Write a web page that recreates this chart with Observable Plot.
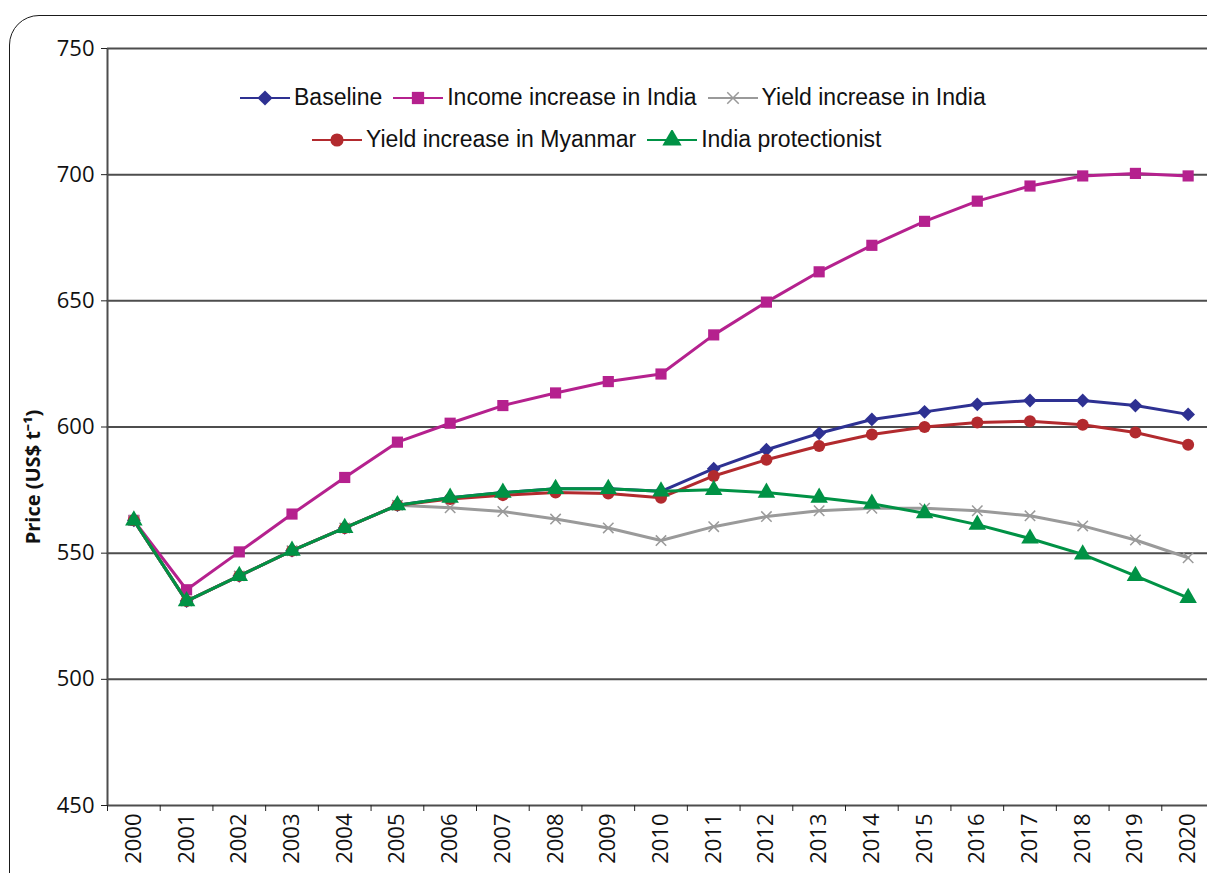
<!DOCTYPE html>
<html><head><meta charset="utf-8">
<script src="https://cdn.jsdelivr.net/npm/d3@7"></script>
<script src="https://cdn.jsdelivr.net/npm/@observablehq/plot@0.6"></script>
<style>
body{margin:0;overflow:hidden;background:#fff}
#wrap{position:relative;width:1207px;height:873px;overflow:hidden;background:#fff}
#border{position:absolute;left:9px;top:15px;width:1260px;height:920px;border:1.5px solid #1a1a1a;border-radius:30px;box-sizing:border-box}
#chart{position:absolute;left:0;top:0}
.legend{position:absolute;display:flex;align-items:center;font-family:"Liberation Sans",Arial,sans-serif;font-size:23px;color:#111;white-space:nowrap}
.item{display:flex;align-items:center;margin-right:11px}
.item svg{margin-right:4px}
g[aria-label="y-axis tick label"] text, g[aria-label="x-axis tick label"] text{font-size:22px;font-family:"Open Sans",sans-serif}
</style>
</head><body>
<div id="wrap"><div id="border"></div><div id="chart"></div>
<div class="legend" id="leg1" style="left:240px;top:84px"></div>
<div class="legend" id="leg2" style="left:312px;top:126px"></div>
</div>
<script>
const years = [2000,2001,2002,2003,2004,2005,2006,2007,2008,2009,2010,2011,2012,2013,2014,2015,2016,2017,2018,2019,2020];
const baseline      = [563,531,541,551,560,569,572,574,575.5,575.5,574.5,583.5,591,597.5,603,606,609,610.5,610.5,608.5,605];
const incomeIndia   = [563,535.5,550.5,565.5,580,594,601.5,608.5,613.5,618,621,636.5,649.5,661.5,672,681.5,689.5,695.5,699.5,700.5,699.5];
const yieldIndia    = [563,531,541,551,560,569,568,566.5,563.5,560,555,560.5,564.5,566.8,567.8,567.8,566.8,564.8,560.8,555.2,548.2];
const yieldMyanmar  = [563,531,541,551,560,569,571.5,573,574,573.6,572,580.6,587,592.5,597,600,601.8,602.3,600.9,597.8,593];
const protectionist = [563,531,541,551,560,569,572,574,575.5,575.5,574.5,575.1,574,572,569.6,565.8,561.3,555.8,549.5,541,532.3];
const yTicks = [450,500,550,600,650,700,750];
const yLabel = "Price (US$ t⁻¹)";

const seriesNames = ["Baseline","Income increase in India","Yield increase in India","Yield increase in Myanmar","India protectionist"];
const seriesValues = [baseline, incomeIndia, yieldIndia, yieldMyanmar, protectionist];
const seriesColors = ["#2e3192","#b5218e","#9a9a9a","#b22a2e","#009245"];
const seriesSymbols = ["diamond2","square","times","circle","triangle"];
const seriesR = [6.2,6.3,4.8,6,6.5];

const data = [];
seriesNames.forEach((s,i)=>years.forEach((y,j)=>data.push({series:s, year:y, value:seriesValues[i][j], idx:i})));

const boundaries = d3.range(years[0]-0.5, years[years.length-1]+1, 1);

const marks = [
  Plot.ruleY(yTicks.filter(d=>d>450), {stroke:"#4d4d4d", strokeWidth:2}),
  Plot.ruleY([450], {stroke:"#4d4d4d", strokeWidth:2}),
  Plot.ruleX([years[0]-0.5], {stroke:"#4d4d4d", strokeWidth:2}),
  Plot.axisY({ticks:yTicks, tickSize:6, tickPadding:7, stroke:"#222", color:"#111", label:null}),
  Plot.axisX({ticks:boundaries, tickSize:6, tickFormat:()=>"", stroke:"#222", label:null}),
  Plot.axisX({ticks:years, tickSize:0, tickPadding:8, tickRotate:-90, tickFormat:d=>String(d), color:"#111", label:null}),
  Plot.text([yLabel], {text:d=>d, frameAnchor:"left", textAnchor:"middle", rotate:-90, dx:-74, dy:50, fontSize:20, fontWeight:"bold", fontFamily:"Open Sans, sans-serif", fill:"#111"})
];
seriesNames.forEach((s,i)=>{
  const d = data.filter(r=>r.idx===i);
  marks.push(Plot.line(d, {x:"year", y:"value", stroke:seriesColors[i], strokeWidth:3}));
  if (seriesSymbols[i]==="times")
    marks.push(Plot.dot(d, {x:"year", y:"value", symbol:"times", stroke:seriesColors[i], strokeWidth:1.5, r:seriesR[i]}));
  else
    marks.push(Plot.dot(d, {x:"year", y:"value", symbol:seriesSymbols[i], fill:seriesColors[i], r:seriesR[i]}));
});

const chart = Plot.plot({
  width:1207, height:873,
  marginLeft:107, marginRight:0, marginTop:48, marginBottom:68,
  style:{background:"transparent", overflow:"visible"},
  x:{type:"linear", domain:[years[0]-0.5, years[years.length-1]+0.5], range:[107,1214]},
  y:{domain:[450,750], range:[805,48]},
  marks
});
document.getElementById("chart").appendChild(chart);

function symbolPath(sym, r){
  const map = {diamond2:d3.symbolDiamond2, square:d3.symbolSquare, times:d3.symbolTimes, circle:d3.symbolCircle, triangle:d3.symbolTriangle};
  return d3.symbol(map[sym], r*r*Math.PI)();
}
function addItem(container, i){
  const div = document.createElement("div"); div.className="item";
  const stroke = seriesSymbols[i]==="times";
  div.innerHTML = `<svg width="50" height="20"><line x1="0" x2="50" y1="10" y2="10" stroke="${seriesColors[i]}" stroke-width="2"/>`+
    `<path transform="translate(25,10)" d="${symbolPath(seriesSymbols[i], seriesR[i]*1.1)}" ${stroke?`fill="none" stroke="${seriesColors[i]}" stroke-width="1.5"`:`fill="${seriesColors[i]}"`}/></svg><span>${seriesNames[i]}</span>`;
  container.appendChild(div);
}
[0,1,2].forEach(i=>addItem(document.getElementById("leg1"), i));
[3,4].forEach(i=>addItem(document.getElementById("leg2"), i));
</script>
</body></html>
